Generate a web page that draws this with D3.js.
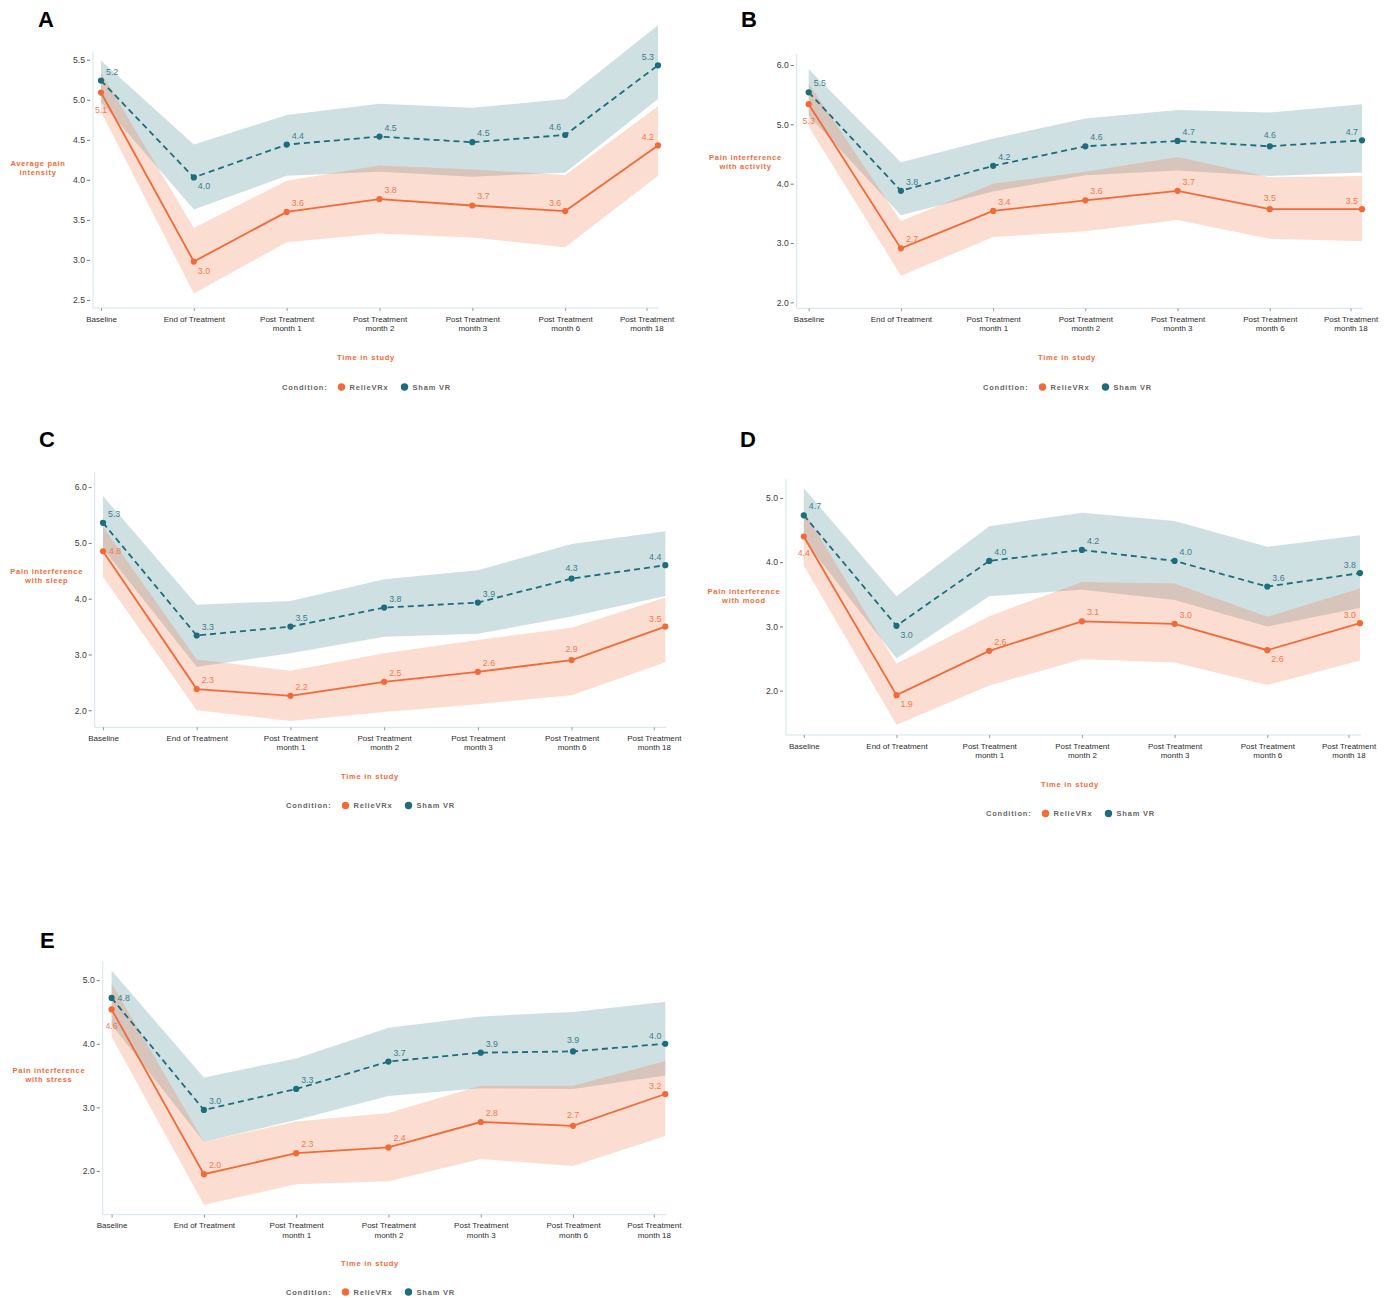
<!DOCTYPE html>
<html>
<head>
<meta charset="utf-8">
<script src="https://cdn.jsdelivr.net/npm/d3@7"></script>
<style>
  body { margin: 0; background: #fff; }
  svg text { font-family: "Liberation Sans", Arial, sans-serif; }
</style>
</head>
<body>
<svg id="fig" width="1386" height="1298"></svg>
<script>
// time points on the x axis
const timepoints = ["Baseline", "End of Treatment", "Post Treatment month 1", "Post Treatment month 2",
  "Post Treatment month 3", "Post Treatment month 6", "Post Treatment month 18"];
const conditions = ["RelieVRx", "Sham VR"];

// values as [mean, lower, upper]
// A - average pain intensity
const avgPainRelieve = [[5.09, 4.85, 5.34], [2.98, 2.58, 3.40], [3.60, 3.22, 3.99], [3.76, 3.33, 4.18], [3.68, 3.28, 4.13], [3.61, 3.16, 4.06], [4.43, 4.05, 4.92]];
const avgPainSham = [[5.24, 4.97, 5.49], [4.03, 3.63, 4.44], [4.44, 4.05, 4.81], [4.54, 4.10, 4.95], [4.47, 4.04, 4.90], [4.56, 4.09, 5.01], [5.43, 5.01, 5.93]];
const avgPainRelieveLbl = ["5.1", "3.0", "3.6", "3.8", "3.7", "3.6", "4.2"];
const avgPainShamLbl = ["5.2", "4.0", "4.4", "4.5", "4.5", "4.6", "5.3"];

// B - interference with activity
const activityRelieve = [[5.34, 4.96, 5.69], [2.91, 2.45, 3.37], [3.54, 3.10, 4.00], [3.72, 3.20, 4.20], [3.88, 3.39, 4.45], [3.57, 3.07, 4.11], [3.57, 3.03, 4.13]];
const activitySham = [[5.54, 5.15, 5.93], [3.88, 3.47, 4.36], [4.30, 3.87, 4.76], [4.63, 4.14, 5.10], [4.72, 4.22, 5.24], [4.63, 4.13, 5.20], [4.73, 4.19, 5.34]];
const activityRelieveLbl = ["5.3", "2.7", "3.4", "3.6", "3.7", "3.5", "3.5"];
const activityShamLbl = ["5.5", "3.8", "4.2", "4.6", "4.7", "4.6", "4.7"];

// C - interference with sleep
const sleepRelieve = [[4.85, 4.39, 5.29], [2.38, 2.00, 2.91], [2.26, 1.81, 2.71], [2.51, 1.97, 3.02], [2.69, 2.11, 3.26], [2.90, 2.27, 3.48], [3.50, 2.86, 4.02]];
const sleepSham = [[5.36, 4.90, 5.84], [3.34, 2.78, 3.89], [3.50, 3.02, 3.96], [3.84, 3.32, 4.35], [3.93, 3.37, 4.51], [4.36, 3.68, 4.98], [4.60, 4.05, 5.21]];
const sleepRelieveLbl = ["4.8", "2.3", "2.2", "2.5", "2.6", "2.9", "3.5"];
const sleepShamLbl = ["5.3", "3.3", "3.5", "3.8", "3.9", "4.3", "4.4"];

// D - interference with mood
const moodRelieve = [[4.40, 3.95, 4.80], [1.93, 1.47, 2.42], [2.62, 2.08, 3.16], [3.08, 2.49, 3.69], [3.04, 2.44, 3.67], [2.63, 2.09, 3.15], [3.05, 2.47, 3.59]];
const moodSham = [[4.73, 4.35, 5.15], [3.01, 2.50, 3.47], [4.02, 3.47, 4.56], [4.19, 3.57, 4.77], [4.02, 3.41, 4.64], [3.62, 3.00, 4.24], [3.83, 3.29, 4.42]];
const moodRelieveLbl = ["4.4", "1.9", "2.6", "3.1", "3.0", "2.6", "3.0"];
const moodShamLbl = ["4.7", "3.0", "4.0", "4.2", "4.0", "3.6", "3.8"];

// E - interference with stress
const stressRelieve = [[4.54, 4.11, 4.95], [1.95, 1.47, 2.46], [2.28, 1.79, 2.78], [2.37, 1.84, 2.91], [2.77, 2.19, 3.34], [2.71, 2.08, 3.34], [3.21, 2.55, 3.73]];
const stressSham = [[4.72, 4.30, 5.15], [2.96, 2.46, 3.47], [3.29, 2.80, 3.77], [3.72, 3.18, 4.25], [3.86, 3.30, 4.43], [3.88, 3.29, 4.50], [4.00, 3.50, 4.66]];
const stressRelieveLbl = ["4.6", "2.0", "2.3", "2.4", "2.8", "2.7", "3.2"];
const stressShamLbl = ["4.8", "3.0", "3.3", "3.7", "3.9", "3.9", "4.0"];

const orange = "#f26a38";
const teal = "#1d6d7c";

// where each value label sits next to its point
const labelOffsets = {
  ur: { dx: 5, dy: -6, anchor: "start" },
  dr: { dx: 4, dy: 12, anchor: "start" },
  ul: { dx: -4, dy: -5, anchor: "end" },
  u: { dx: 0, dy: -8, anchor: "middle" },
  d: { dx: 0, dy: 20, anchor: "middle" },
  r: { dx: 6, dy: 3, anchor: "start" }
};

const panels = [
  { letter: "A", lx: 38, ly: 27, x0: 93, xFirst: 101, xLast: 658, yTop: 51.7, yBottom: 308,
    yDomain: [2.4, 5.6], yTicks: [2.5, 3.0, 3.5, 4.0, 4.5, 5.0, 5.5],
    yTitle: ["Average pain", "intensity"], ytx: 38, yty: 166, xtx: 366, xty: 360, legY: 387,
    relieve: avgPainRelieve, sham: avgPainSham, relieveLbl: avgPainRelieveLbl, shamLbl: avgPainShamLbl,
    relieveSide: ["d", "dr", "ur", "ur", "ur", "ul", "ul"], shamSide: ["ur", "dr", "ur", "ur", "ur", "ul", "ul"] },
  { letter: "B", lx: 741, ly: 27, x0: 796.7, xFirst: 808.7, xLast: 1362, yTop: 54.3, yBottom: 308.3,
    yDomain: [1.9, 6.18], yTicks: [2, 3, 4, 5, 6],
    yTitle: ["Pain interference", "with activity"], ytx: 745.5, yty: 159.5, xtx: 1067, xty: 360, legY: 387,
    relieve: activityRelieve, sham: activitySham, relieveLbl: activityRelieveLbl, shamLbl: activityShamLbl,
    relieveSide: ["d", "ur", "ur", "ur", "ur", "u", "ul"], shamSide: ["ur", "ur", "ur", "ur", "ur", "u", "ul"] },
  { letter: "C", lx: 39, ly: 447, x0: 94.7, xFirst: 103, xLast: 665.3, yTop: 471.7, yBottom: 727.3,
    yDomain: [1.695, 6.276], yTicks: [2, 3, 4, 5, 6],
    yTitle: ["Pain interference", "with sleep"], ytx: 46.7, yty: 574, xtx: 370, xty: 779, legY: 805.5,
    relieve: sleepRelieve, sham: sleepSham, relieveLbl: sleepRelieveLbl, shamLbl: sleepShamLbl,
    relieveSide: ["r", "ur", "ur", "ur", "ur", "u", "ul"], shamSide: ["ur", "ur", "ur", "ur", "ur", "u", "ul"] },
  { letter: "D", lx: 740, ly: 447, x0: 786, xFirst: 803.8, xLast: 1360, yTop: 479.3, yBottom: 735,
    yDomain: [1.31, 5.29], yTicks: [2, 3, 4, 5],
    yTitle: ["Pain interference", "with mood"], ytx: 744, yty: 594, xtx: 1070, xty: 787, legY: 813.5,
    relieve: moodRelieve, sham: moodSham, relieveLbl: moodRelieveLbl, shamLbl: moodShamLbl,
    relieveSide: ["d", "dr", "ur", "ur", "ur", "dr", "ul"], shamSide: ["ur", "dr", "ur", "ur", "ur", "ur", "ul"] },
  { letter: "E", lx: 40, ly: 948, x0: 102.7, xFirst: 111.6, xLast: 665.3, yTop: 961.7, yBottom: 1214.7,
    yDomain: [1.313, 5.29], yTicks: [2, 3, 4, 5],
    yTitle: ["Pain interference", "with stress"], ytx: 49, yty: 1073, xtx: 370, xty: 1266, legY: 1292,
    relieve: stressRelieve, sham: stressSham, relieveLbl: stressRelieveLbl, shamLbl: stressShamLbl,
    relieveSide: ["d", "ur", "ur", "ur", "ur", "u", "ul"], shamSide: ["r", "ur", "ur", "ur", "ur", "u", "ul"] }
];

const svg = d3.select("#fig");

function drawPanel(p) {
  const g = svg.append("g");

  const x = d3.scalePoint().domain(timepoints).range([p.xFirst, p.xLast]);
  const y = d3.scaleLinear().domain(p.yDomain).range([p.yBottom, p.yTop]);

  // panel letter
  g.append("text")
    .attr("x", p.lx).attr("y", p.ly)
    .style("font-family", "'Liberation Sans', Arial, sans-serif")
    .style("font-size", "22px").style("font-weight", "bold").style("fill", "#000")
    .text(p.letter);

  // axis lines
  g.append("line")
    .attr("x1", p.x0).attr("x2", p.x0).attr("y1", p.yTop).attr("y2", p.yBottom)
    .attr("stroke", "#d3e4ea").attr("stroke-width", 1);
  g.append("line")
    .attr("x1", p.x0).attr("x2", p.xLast + 1).attr("y1", p.yBottom).attr("y2", p.yBottom)
    .attr("stroke", "#d3e4ea").attr("stroke-width", 1);

  // y axis ticks
  const yAxis = g.append("g")
    .attr("transform", `translate(${p.x0 - 3},0)`)
    .call(d3.axisLeft(y).tickValues(p.yTicks).tickFormat(d3.format(".1f")).tickSize(3).tickPadding(2));
  yAxis.select(".domain").remove();
  yAxis.selectAll(".tick line").attr("stroke", "#777");
  yAxis.selectAll(".tick text")
    .style("font-size", "8.6px").style("fill", "#3a3a3a")
    .style("font-family", "'Liberation Sans', Arial, sans-serif");

  // x axis ticks and two-line labels
  const xAxis = g.append("g")
    .attr("transform", `translate(0,${p.yBottom})`)
    .call(d3.axisBottom(x).tickSize(3).tickPadding(3));
  xAxis.select(".domain").remove();
  xAxis.selectAll(".tick line").attr("stroke", "#999");
  xAxis.selectAll(".tick text").each(function(d) {
    const t = d3.select(this);
    t.text(null).attr("y", 0).attr("dy", null)
      .style("font-size", "8px").style("fill", "#2e2e2e")
      .style("font-family", "'Liberation Sans', Arial, sans-serif");
    const i = d.indexOf(" month");
    const lines = i > 0 ? [d.slice(0, i), d.slice(i + 1)] : [d];
    lines.forEach((ln, k) => {
      t.append("tspan").attr("x", 0).attr("y", 13.5 + k * 9.6).text(ln);
    });
  });
  // the last label sits a little inside the axis end
  const lastTick = xAxis.selectAll(".tick").filter(d => d === timepoints[timepoints.length - 1]);
  lastTick.attr("transform", `translate(${x(timepoints[timepoints.length - 1]) - 11},0)`);

  // axis titles
  const yt = g.append("text")
    .attr("text-anchor", "middle")
    .style("font-size", "7.5px").style("font-weight", "bold")
    .style("letter-spacing", "0.7px").style("fill", orange);
  p.yTitle.forEach((ln, k) => {
    yt.append("tspan").attr("x", p.ytx).attr("y", p.yty + k * 9.3).text(ln);
  });

  g.append("text")
    .attr("x", p.xtx).attr("y", p.xty)
    .attr("text-anchor", "middle")
    .style("font-size", "7.5px").style("font-weight", "bold")
    .style("letter-spacing", "0.75px").style("fill", orange)
    .text("Time in study");

  // legend
  const leg = g.append("g").attr("transform", `translate(${p.xtx},${p.legY})`);
  leg.append("text")
    .attr("x", -84).attr("y", 2.7)
    .style("font-size", "7.5px").style("font-weight", "bold")
    .style("letter-spacing", "0.8px").style("fill", "#666")
    .text("Condition:");
  [[conditions[0], orange, -24.5], [conditions[1], teal, 38.5]].forEach(([name, col, cx]) => {
    leg.append("circle").attr("cx", cx).attr("cy", 0).attr("r", 3.7).attr("fill", col);
    leg.append("text")
      .attr("x", cx + 8).attr("y", 2.7)
      .style("font-size", "7.5px").style("font-weight", "bold")
      .style("letter-spacing", "0.8px").style("fill", "#666")
      .text(name);
  });

  const series = [
    { data: p.sham, lbl: p.shamLbl, side: p.shamSide, color: teal, fill: teal, op: 0.21, dash: "6,4" },
    { data: p.relieve, lbl: p.relieveLbl, side: p.relieveSide, color: orange, fill: orange, op: 0.23, dash: null }
  ];

  // confidence bands
  const area = d3.area()
    .x((d, i) => x(timepoints[i]))
    .y0(d => y(d[1]))
    .y1(d => y(d[2]));
  series.forEach(s => {
    g.append("path").datum(s.data)
      .attr("d", area)
      .attr("fill", s.fill).attr("fill-opacity", s.op);
  });

  // lines and points
  const line = d3.line()
    .x((d, i) => x(timepoints[i]))
    .y(d => y(d[0]));
  series.forEach(s => {
    g.append("path").datum(s.data)
      .attr("d", line)
      .attr("fill", "none").attr("stroke", s.color).attr("stroke-width", 1.8)
      .attr("stroke-dasharray", s.dash);
    g.selectAll(null).data(s.data).enter().append("circle")
      .attr("cx", (d, i) => x(timepoints[i]))
      .attr("cy", d => y(d[0]))
      .attr("r", 3.1)
      .attr("fill", s.color);
  });

  // value labels
  series.forEach(s => {
    g.selectAll(null).data(s.data).enter().append("text")
      .attr("x", (d, i) => x(timepoints[i]) + labelOffsets[s.side[i]].dx)
      .attr("y", (d, i) => y(d[0]) + labelOffsets[s.side[i]].dy)
      .attr("text-anchor", (d, i) => labelOffsets[s.side[i]].anchor)
      .style("font-size", "8.8px").style("fill", s.color).style("opacity", 0.85)
      .text((d, i) => s.lbl[i]);
  });
}

panels.forEach(drawPanel);
</script>
</body>
</html>
